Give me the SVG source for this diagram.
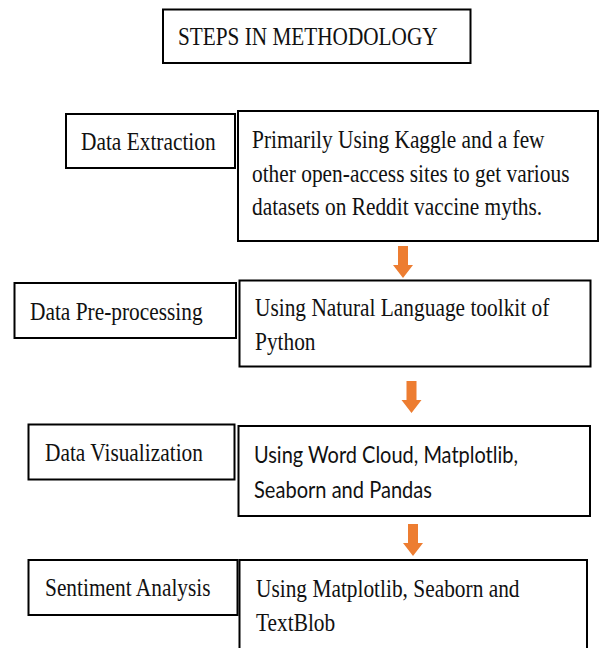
<svg xmlns="http://www.w3.org/2000/svg" width="601" height="648" viewBox="0 0 601 648">
<style>
  .box { fill: #ffffff; stroke: #000000; stroke-width: 2; }
  .t { font-family: "Liberation Serif", "Times New Roman", serif; font-size: 25px; fill: #111111; }
  .s { font-family: Lato, "Liberation Sans", sans-serif; font-size: 23.5px; fill: #111111; }
  .arrow { fill: #ED7D31; }
</style>
<rect x="0" y="0" width="601" height="648" fill="#ffffff"/>

<g id="title">
  <rect class="box" x="163" y="9.5" width="307.5" height="53.5"/>
  <text class="t" transform="translate(178 45) scale(0.85 1)">STEPS IN METHODOLOGY</text>
</g>

<g id="data-extraction">
  <rect class="box" x="66" y="114" width="169" height="54"/>
  <text class="t" transform="translate(81 150) scale(0.855 1)">Data Extraction</text>
</g>
<g id="data-extraction-desc">
  <rect class="box" x="238" y="111" width="360" height="130"/>
  <text class="t" transform="translate(252 148) scale(0.855 1)">Primarily Using Kaggle and a few</text>
  <text class="t" transform="translate(252 182) scale(0.855 1)">other open-access sites to get various</text>
  <text class="t" transform="translate(252 215) scale(0.855 1)">datasets on Reddit vaccine myths.</text>
</g>

<g id="data-preprocessing">
  <rect class="box" x="14.5" y="283" width="221.5" height="55"/>
  <text class="t" transform="translate(30 320) scale(0.855 1)">Data Pre-processing</text>
</g>
<g id="data-preprocessing-desc">
  <rect class="box" x="239.5" y="280.5" width="351" height="86"/>
  <text class="t" transform="translate(255 316) scale(0.855 1)">Using Natural Language toolkit of</text>
  <text class="t" transform="translate(255 350) scale(0.855 1)">Python</text>
</g>

<g id="data-visualization">
  <rect class="box" x="28.5" y="424.5" width="206" height="55"/>
  <text class="t" transform="translate(45 461) scale(0.855 1)">Data Visualization</text>
</g>
<g id="data-visualization-desc">
  <rect class="box" x="238.5" y="426" width="351.5" height="90"/>
  <text class="s" x="254" y="463" textLength="264" lengthAdjust="spacingAndGlyphs">Using Word Cloud, Matplotlib,</text>
  <text class="s" x="254" y="498" textLength="178" lengthAdjust="spacingAndGlyphs">Seaborn and Pandas</text>
</g>

<g id="sentiment-analysis">
  <rect class="box" x="28.5" y="560" width="209" height="55"/>
  <text class="t" transform="translate(45 596) scale(0.855 1)">Sentiment Analysis</text>
</g>
<g id="sentiment-analysis-desc">
  <rect class="box" x="239.5" y="560" width="347.5" height="100"/>
  <text class="t" transform="translate(256 597) scale(0.855 1)">Using Matplotlib, Seaborn and</text>
  <text class="t" transform="translate(256 631) scale(0.855 1)">TextBlob</text>
</g>

<g id="connectors">
  <path class="arrow" d="M398 246 H408 V265 H413 L403 278 L393 265 H398 Z"/>
  <path class="arrow" d="M406.5 381 H416.5 V400 H421.5 L411.5 413 L401.5 400 H406.5 Z"/>
  <path class="arrow" d="M408 524 H418 V543 H423 L413 556 L403 543 H408 Z"/>
</g>
</svg>
